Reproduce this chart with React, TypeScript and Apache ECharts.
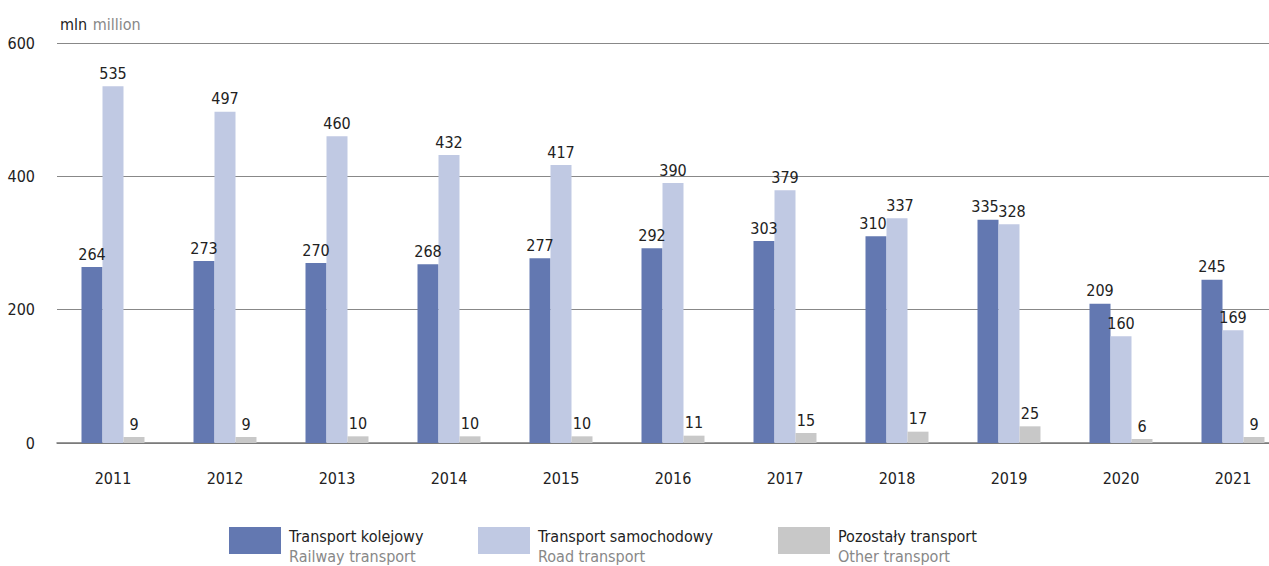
import React, { useEffect, useRef } from "react";
import * as echarts from "echarts";

const years = ["2011", "2012", "2013", "2014", "2015", "2016", "2017", "2018", "2019", "2020", "2021"];
const railway = [264, 273, 270, 268, 277, 292, 303, 310, 335, 209, 245];
const road = [535, 497, 460, 432, 417, 390, 379, 337, 328, 160, 169];
const other = [9, 9, 10, 10, 10, 11, 15, 17, 25, 6, 9];
const yTicks = [0, 200, 400, 600];

const seriesNames = ["Transport kolejowy", "Transport samochodowy", "Pozostały transport"];
const seriesEn = ["Railway transport", "Road transport", "Other transport"];
const colors = ["#6378B1", "#C0C9E3", "#C8C8C8"];

const FONT = "'Liberation Sans Narrow', 'DejaVu Sans Condensed', 'Roboto', sans-serif";

export default function App() {
  const ref = useRef<HTMLDivElement>(null);
  useEffect(() => {
    if (!ref.current) return;
    const chart = echarts.init(ref.current, null, { renderer: "svg" });
    const labelBase = {
      show: true,
      position: "top",
      distance: 5,
      color: "#222",
      fontSize: 16,
      fontFamily: FONT,
    };
    const mkSeries = (i: number, data: number[], shift: number) => ({
      name: seriesNames[i],
      type: "bar",
      data: data.map((v, k) => {
        const close = Math.abs(railway[k] - road[k]) < 30;
        return close && shift !== 0 ? { value: v, label: { offset: [shift, 0] } } : v;
      }),
      barWidth: 21,
      barGap: "0%",
      itemStyle: { color: colors[i] },
      label: labelBase,
    });
    const legendLefts = [229, 478, 778];
    chart.setOption({
      animation: false,
      textStyle: { fontFamily: FONT },
      grid: { left: 57, right: 0, top: 43, bottom: 123 },
      title: {
        text: "{a|mln} {b|million}",
        left: 55,
        top: 10,
        textStyle: {
          rich: {
            a: { fontSize: 16, color: "#222", fontFamily: FONT, fontWeight: "normal" },
            b: { fontSize: 16, color: "#888", fontFamily: FONT, fontWeight: "normal" },
          },
        },
      },
      legend: seriesNames.map((n, i) => ({
        data: [n],
        left: legendLefts[i],
        top: 527,
        padding: 0,
        itemWidth: 52,
        itemHeight: 27,
        itemGap: 0,
        icon: "rect",
        selectedMode: false,
        formatter: (name: string) => `{a|${name}}\n{b|${seriesEn[seriesNames.indexOf(name)]}}`,
        textStyle: {
          padding: [11, 0, 0, 3],
          rich: {
            a: { fontSize: 16, color: "#222", fontFamily: FONT, lineHeight: 20 },
            b: { fontSize: 16, color: "#888", fontFamily: FONT, lineHeight: 20 },
          },
        },
      })),
      xAxis: {
        type: "category",
        data: years,
        axisLine: { show: true, lineStyle: { color: "#777", width: 1.5 } },
        axisTick: { show: false },
        axisLabel: { color: "#222", fontSize: 16, margin: 27, fontFamily: FONT },
      },
      yAxis: {
        type: "value",
        min: yTicks[0],
        max: yTicks[yTicks.length - 1],
        interval: 200,
        axisLine: { show: false },
        axisTick: { show: false },
        axisLabel: { color: "#222", fontSize: 16, margin: 22, fontFamily: FONT },
        splitLine: { lineStyle: { color: "#888", width: 1 } },
      },
      series: [mkSeries(0, railway, -3), mkSeries(1, road, 3), mkSeries(2, other, 0)],
    });
    return () => chart.dispose();
  }, []);
  return (
    <div style={{ position: "absolute", left: 0, top: 0, width: 1269, height: 566, overflow: "hidden", background: "#fff" }}>
      <div ref={ref} style={{ width: 1289, height: 566 }} />
    </div>
  );
}
